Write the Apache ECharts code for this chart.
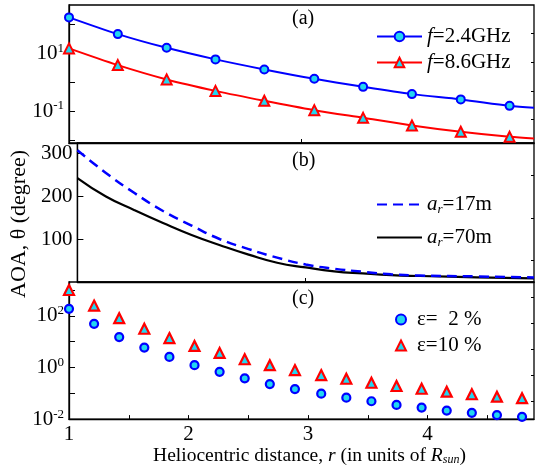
<!DOCTYPE html>
<html><head><meta charset="utf-8">
<script src="https://cdn.jsdelivr.net/npm/echarts@6/dist/echarts.min.js"></script>
<style>html,body{margin:0;padding:0;background:#fff}#c{width:535px;height:467px}</style>
</head><body><div id="c"></div>
<script>
// ---------- Panel (a) ----------
const xA = [1, 1.42, 1.84, 2.26, 2.68, 3.11, 3.53, 3.95, 4.37, 4.79, 5.0];
const f24 = [178, 46.8, 15.6, 6.2, 2.78, 1.31, 0.69, 0.386, 0.253, 0.151, 0.129];
const f86 = [14.9, 3.93, 1.25, 0.50, 0.226, 0.107, 0.058, 0.0316, 0.019, 0.0127, 0.0112];
const namesA = ['f=2.4GHz', 'f=8.6GHz'];
// ---------- Panel (b) ----------
const xB = [1, 1.25, 1.5, 1.75, 2, 2.25, 2.5, 2.75, 3, 3.25, 3.5, 3.75, 4, 4.5, 5];
const ar17 = [308, 255, 208, 166, 132, 100, 77, 57, 41, 31, 24, 18, 15, 13, 10.5];
const ar70 = [243, 200, 168, 138, 110, 86, 64, 45, 34, 25, 20, 16, 14, 11, 8.5];
const namesB = ['a_r=17m', 'a_r=70m'];
// ---------- Panel (c) ----------
const xC = [1, 1.21, 1.42, 1.63, 1.84, 2.05, 2.26, 2.47, 2.68, 2.89, 3.11, 3.32, 3.53, 3.74, 3.95, 4.16, 4.37, 4.58, 4.79];
const eps2 = [186, 49, 15, 5.9, 2.56, 1.23, 0.68, 0.378, 0.228, 0.146, 0.0966, 0.0677, 0.0492, 0.0355, 0.0279, 0.0214, 0.0175, 0.0143, 0.0123];
const eps10 = [1000, 249, 81, 31.6, 13.7, 6.8, 3.64, 2.08, 1.23, 0.79, 0.506, 0.365, 0.256, 0.191, 0.150, 0.115, 0.0916, 0.074, 0.0645];
const namesC = ['ε=  2 %', 'ε=10 %'];
// ---------- ticks ----------
const xTicksC = [1, 2, 3, 4];
const yLabelsA = [-1, 1];
const yLabelsB = [100, 200, 300];
const yLabelsC = [-2, 0, 2];

const FONT = '"Liberation Serif", "Times New Roman", serif';
const BLUE = '#0000ff', RED = '#ff0000', CYAN = '#22d6f0';
const FS = 21, FT = 19.5;

const chart = echarts.init(document.getElementById('c'), null, {renderer: 'canvas'});
const lg = v => Math.log10(v);
const pow10 = v => '{b|10}{s|' + Math.round(v) + '}';
const supRich = {
  b: {fontSize: FS, fontFamily: FONT, color: '#000'},
  s: {fontSize: 13, fontFamily: FONT, color: '#000', verticalAlign: 'top', padding: [0, 0, 10, 0]}
};
const L = 69, W = 465;
const grids = [
  {left: L, top: 5, width: W, height: 138},
  {left: L, top: 143, width: W, height: 139},
  {left: L, top: 282, width: W, height: 138}
].map(g => Object.assign(g, {show: true, borderColor: '#000', borderWidth: 1.3, backgroundColor: 'transparent'}));

const baseX = (gi, min, max) => ({
  type: 'value', gridIndex: gi, min, max,
  axisLine: {show: true, onZero: false, lineStyle: {color: '#000', width: 1.3}},
  splitLine: {show: false},
  axisTick: {show: true, inside: true, length: 4, lineStyle: {color: '#000'}},
  axisLabel: {show: false}
});
const xAxes = [
  Object.assign(baseX(0, 1, 5), {axisTick: {show: true, inside: true, length: 4, customValues: [3], lineStyle: {color: '#000'}}}),
  Object.assign(baseX(1, 1, 5), {axisTick: {show: true, inside: true, length: 4, customValues: [3], lineStyle: {color: '#000'}}}),
  Object.assign(baseX(2, 1, 4.89), {
    axisTick: {show: true, inside: true, length: 4, customValues: [1.5, 2, 2.5, 3, 3.5, 4, 4.5], lineStyle: {color: '#000'}},
    axisLabel: {show: true, customValues: xTicksC, margin: 5, fontSize: FS, fontFamily: FONT, color: '#000'},
    name: '{n|Heliocentric distance, }{i|r}{n| (in units of }{i|R}{sub|sun}{n|)}',
    nameLocation: 'middle', nameGap: 23,
    nameTextStyle: {padding: [0, 0, 0, 16], rich: {
      n: {fontSize: FT, fontFamily: FONT, color: '#000'},
      i: {fontSize: FT, fontFamily: FONT, fontStyle: 'italic', color: '#000'},
      sub: {fontSize: 12, fontFamily: FONT, fontStyle: 'italic', color: '#000', verticalAlign: 'bottom', padding: [8, 0, 0, 0]}
    }}
  })
];
const mainY = (gi, min, max, labels, ticks, fmt) => ({
  type: 'value', gridIndex: gi, min, max,
  axisLine: {show: true, onZero: false, lineStyle: {color: '#000', width: 1.3}},
  splitLine: {show: false},
  axisTick: {show: true, inside: true, length: 6, customValues: ticks, lineStyle: {color: '#000'}},
  axisLabel: {show: true, customValues: labels, margin: 5, formatter: fmt, fontSize: FS, fontFamily: FONT, color: '#000', rich: supRich}
});
const minorY = (gi, min, max, ticks) => ({
  type: 'value', gridIndex: gi, min, max,
  axisLine: {show: false, onZero: false}, splitLine: {show: false},
  axisTick: {show: true, inside: true, length: 3, customValues: ticks, lineStyle: {color: '#000'}},
  axisLabel: {show: false, customValues: ticks}
});
const yAxes = [
  mainY(0, -2.11, 2.68, yLabelsA, [-2, -1, 0, 1, 2], pow10),
  Object.assign(mainY(1, 0, 325, yLabelsB, [0, 100, 200, 300], v => String(v)), {
    name: 'AOA, θ (degree)', nameLocation: 'middle', nameRotate: 90, nameGap: 38,
    nameTextStyle: {fontSize: 22, fontFamily: FONT, color: '#000', padding: [0, 23, 0, 0]}
  }),
  mainY(2, -2, 3.31, yLabelsC, [-2, -1, 0, 1, 2, 3], pow10),
  minorY(0, -2.11, 2.68, [-1.3, -0.3, 0.7, 1.7]),
  minorY(1, 0, 325, [50, 150, 250]),
  minorY(2, -2, 3.31, [-1.3, -0.3, 0.7, 1.7, 2.7])
];

const pairs = (xs, ys, f) => xs.map((x, i) => [x, f ? f(ys[i]) : ys[i]]);
const aData = (ys) => xA.map((x, i) => i === xA.length - 1 ? {value: [x, lg(ys[i])], symbol: 'none'} : [x, lg(ys[i])]);

const series = [
  {name: namesA[0], type: 'line', xAxisIndex: 0, yAxisIndex: 0, data: aData(f24), smooth: 0.3,
   lineStyle: {color: BLUE, width: 2}, symbol: 'circle', symbolSize: 8,
   itemStyle: {color: CYAN, borderColor: BLUE, borderWidth: 2}, z: 3},
  {name: namesA[1], type: 'line', xAxisIndex: 0, yAxisIndex: 0, data: aData(f86), smooth: 0.3,
   lineStyle: {color: RED, width: 2}, symbol: 'triangle', symbolSize: 10,
   itemStyle: {color: CYAN, borderColor: RED, borderWidth: 2}, z: 3},
  {name: namesB[0], type: 'line', xAxisIndex: 1, yAxisIndex: 1, data: pairs(xB, ar17), smooth: 0.5,
   showSymbol: false, symbol: 'none', lineStyle: {color: BLUE, width: 2.5, type: [10, 6]}, itemStyle: {color: BLUE}, z: 3},
  {name: namesB[1], type: 'line', xAxisIndex: 1, yAxisIndex: 1, data: pairs(xB, ar70), smooth: 0.5,
   showSymbol: false, symbol: 'none', lineStyle: {color: '#000', width: 2.2}, itemStyle: {color: '#000'}, z: 2},
  {name: namesC[0], type: 'scatter', xAxisIndex: 2, yAxisIndex: 2, data: pairs(xC, eps2, lg),
   symbol: 'circle', symbolSize: 8, itemStyle: {color: CYAN, borderColor: BLUE, borderWidth: 2.2, opacity: 1}},
  {name: namesC[1], type: 'scatter', xAxisIndex: 2, yAxisIndex: 2, data: pairs(xC, eps10, lg),
   symbol: 'triangle', symbolSize: 10, itemStyle: {color: CYAN, borderColor: RED, borderWidth: 2.2, opacity: 1}}
];

const legTxt = {fontSize: FS, fontFamily: FONT, color: '#000'};
const legends = [
  {data: namesA, orient: 'vertical', left: 371, top: 21, itemWidth: 45, itemHeight: 12, itemGap: 5, selectedMode: false,
   formatter: n => '{i|f}' + n.slice(1),
   textStyle: Object.assign({}, legTxt, {lineHeight: 21, rich: {i: {fontStyle: 'italic', fontSize: FS, fontFamily: FONT, color: '#000'}}})},
  {data: namesB, orient: 'vertical', left: 371, top: 188, itemWidth: 45, itemHeight: 12, itemGap: 10, selectedMode: false,
   itemStyle: {opacity: 0},
   formatter: n => '{i|a}{sub|r}' + n.slice(3),
   textStyle: Object.assign({}, legTxt, {lineHeight: 23, rich: {
     i: {fontStyle: 'italic', fontSize: FS, fontFamily: FONT, color: '#000'},
     sub: {fontStyle: 'italic', fontSize: 13, fontFamily: FONT, color: '#000', verticalAlign: 'bottom', padding: [10, 0, 0, 0]}}})},
  {data: namesC, orient: 'vertical', left: 390, top: 304, itemWidth: 10, itemHeight: 10, itemGap: 5, selectedMode: false,
   textStyle: Object.assign({}, legTxt, {lineHeight: 20, padding: [0, 0, 0, 6]})}
];

const panelLabel = (t, y) => ({type: 'text', left: 292, top: y, style: {text: t, fontSize: 20, fontFamily: FONT, fill: '#000'}});

chart.setOption({
  animation: false,
  backgroundColor: '#fff',
  grid: grids,
  xAxis: xAxes,
  yAxis: yAxes,
  legend: legends,
  series: series,
  graphic: [panelLabel('(a)', 9), panelLabel('(b)', 151), panelLabel('(c)', 289)]
});
</script></body></html>
